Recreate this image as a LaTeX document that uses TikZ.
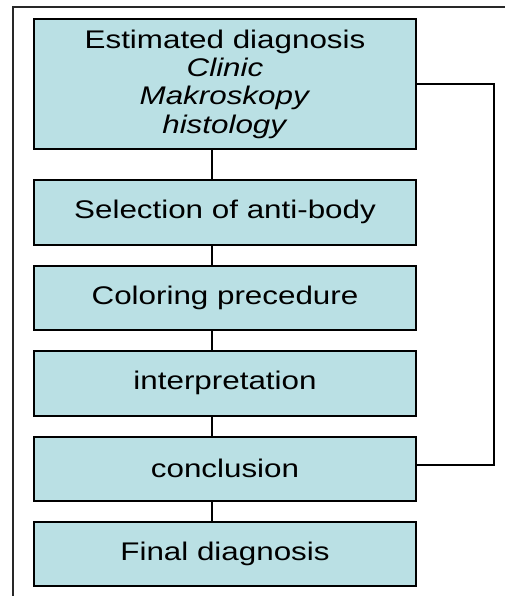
\documentclass[tikz,border=0pt]{standalone}
\usepackage{fontspec}
\setmainfont{Liberation Sans}[FakeStretch=1.23]
\definecolor{boxfill}{RGB}{186,224,228}
\definecolor{framecol}{RGB}{40,40,40}
\begin{document}
\begin{tikzpicture}[x=1pt,y=-1pt,
  stepbox/.style={draw=black,line width=2pt,fill=boxfill,minimum width=382pt,
    minimum height=64.5pt,inner sep=0pt,align=center,
    font=\fontsize{25.5}{28.3}\selectfont},
  link/.style={draw=black,line width=1.8pt},
  framelines/.style={draw=framecol,line width=2pt}]
\useasboundingbox (0,0) rectangle (505,596);
\coordinate (fa) at (12.5,597);
\coordinate (fb) at (12.5,7);
\coordinate (fc) at (506,7);
\draw[framelines] (fa) -- (fb) -- (fc);
\node[stepbox,minimum height=130pt] (b1) at (225,84) {Estimated diagnosis\\\textit{Clinic}\\\textit{Makroskopy}\\\textit{histology}};
\node[stepbox] (b2) at (225,212.3) {Selection of anti-body};
\node[stepbox] (b3) at (225,298) {Coloring precedure};
\node[stepbox] (b4) at (225,383.3) {interpretation};
\node[stepbox] (b5) at (225,468.8) {conclusion};
\node[stepbox] (b6) at (225,553.8) {Final diagnosis};
\foreach \a/\b in {b1/b2,b2/b3,b3/b4,b4/b5,b5/b6}
  \draw[link] ([xshift=-13pt]\a.south) -- ([xshift=-13pt]\b.north);
\draw[link] (b1.east) -- (494.3,84) |- ([yshift=4pt]b5.east);
\end{tikzpicture}
\end{document}
